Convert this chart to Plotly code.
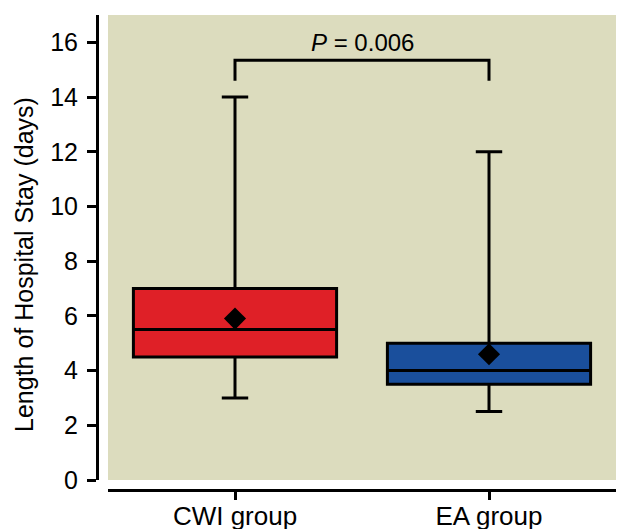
import plotly.graph_objects as go

categories = ["CWI group", "EA group"]
q1 = [4.5, 3.5]
median = [5.5, 4.0]
q3 = [7.0, 5.0]
lower_whisker = [3.0, 2.5]
upper_whisker = [14.0, 12.0]
means = [5.9, 4.6]
fill_colors = ["#DF2027", "#1A4F9C"]
bracket_low = 14.6
bracket_high = 15.35
p_label_y = 16.0
y_ticks = [0, 2, 4, 6, 8, 10, 12, 14, 16]
y_title = "Length of Hospital Stay (days)"

FONT = "Arial, Liberation Sans, sans-serif"

fig = go.Figure()
for i, cat in enumerate(categories):
    fig.add_trace(go.Box(
        x=[cat], q1=[q1[i]], median=[median[i]], q3=[q3[i]],
        lowerfence=[lower_whisker[i]], upperfence=[upper_whisker[i]],
        fillcolor=fill_colors[i], line=dict(color="black", width=3),
        width=0.8, whiskerwidth=0.13, boxpoints=False, showlegend=False,
    ))

fig.add_trace(go.Scatter(
    x=categories, y=means, mode="markers",
    marker=dict(symbol="diamond", size=17, color="black"),
    showlegend=False,
))

fig.add_trace(go.Scatter(
    x=[categories[0], categories[0], categories[1], categories[1]],
    y=[bracket_low, bracket_high, bracket_high, bracket_low],
    mode="lines", line=dict(color="black", width=3), showlegend=False,
))

fig.add_annotation(
    x=0.5, y=p_label_y, xref="x", yref="y",
    text="<i>P</i> = 0.006", showarrow=False,
    font=dict(size=24, color="black", family=FONT),
)

fig.add_annotation(
    x=-0.1407, y=0.4758, xref="paper", yref="paper",
    text=y_title, textangle=-90, showarrow=False,
    xanchor="center", yanchor="middle",
    font=dict(size=25, color="black", family=FONT),
)

plot_w = 617 - 97 - 1
plot_h = 529 - 15 - 39
fig.update_layout(
    width=617, height=529,
    margin=dict(l=97, r=1, t=15, b=39),
    paper_bgcolor="white", plot_bgcolor="#DCDCBE",
    font=dict(family=FONT, color="black"),
    xaxis=dict(
        domain=[11 / plot_w, 1], anchor="free", position=0,
        type="category", range=[-0.5, 1.5], automargin=False,
        showline=True, linecolor="black", linewidth=3,
        ticks="outside", ticklen=8, tickwidth=3, tickcolor="black",
        tickfont=dict(size=26), ticklabelstandoff=-6,
        showgrid=False, zeroline=False,
    ),
    yaxis=dict(
        domain=[10 / plot_h, 1], anchor="free", position=0,
        range=[0, 17], tickvals=y_ticks, automargin=False,
        showline=True, linecolor="black", linewidth=3,
        ticks="outside", ticklen=9, tickwidth=3, tickcolor="black",
        tickfont=dict(size=25), ticklabelstandoff=4,
        showgrid=False, zeroline=False,
    ),
)

fig.write_html(
    "out.html",
    config={"displayModeBar": False},
    post_script="document.body.style.margin='0';document.body.style.overflow='hidden';",
)
